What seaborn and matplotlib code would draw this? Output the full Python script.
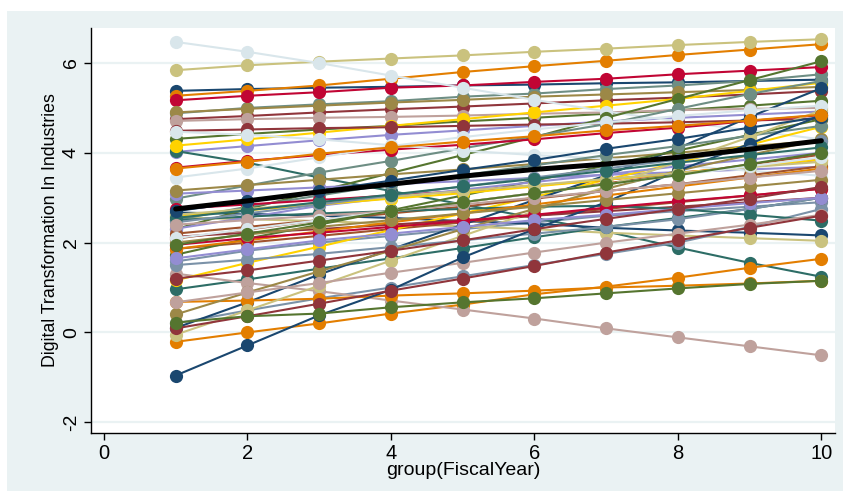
import numpy as np
import pandas as pd
import matplotlib
matplotlib.use("Agg")
import matplotlib.pyplot as plt
from matplotlib.patches import Rectangle
import seaborn as sns

years = [1, 2, 3, 4, 5, 6, 7, 8, 9, 10]

# industry series, grouped by the Stata s2color colour they are drawn in
navy_lines = [
    [5.38, 5.42, 5.45, 5.47, 5.50, 5.52, 5.55, 5.57, 5.60, 5.63],
    [2.67, 2.64, 2.60, 2.55, 2.48, 2.42, 2.33, 2.27, 2.22, 2.16],
    [0.10, 0.67, 1.29, 1.85, 2.40, 2.95, 3.50, 4.10, 4.80, 5.44],
    [-0.96, -0.29, 0.38, 0.95, 1.67, 2.30, 2.90, 3.60, 4.20, 4.84],
    [2.70, 2.92, 3.15, 3.38, 3.62, 3.84, 4.09, 4.31, 4.56, 4.80],
]
maroon_lines = [
    [4.75, 4.82, 4.90, 4.97, 5.03, 5.10, 5.17, 5.23, 5.30, 5.38],
    [4.49, 4.52, 4.55, 4.57, 4.60, 4.63, 4.65, 4.68, 4.72, 4.76],
    [2.13, 2.22, 2.30, 2.40, 2.50, 2.60, 2.70, 2.80, 2.90, 3.00],
    [0.09, 0.36, 0.64, 0.93, 1.20, 1.48, 1.78, 2.05, 2.33, 2.60],
    [1.20, 1.38, 1.60, 1.82, 2.05, 2.30, 2.53, 2.75, 2.98, 3.24],
]
green_lines = [
    [4.31, 4.42, 4.52, 4.60, 4.70, 4.78, 4.87, 4.95, 5.05, 5.16],
    [2.30, 2.75, 3.15, 3.55, 3.95, 4.35, 4.78, 5.20, 5.62, 6.04],
    [1.73, 2.09, 2.40, 2.72, 3.05, 3.38, 3.72, 4.05, 4.40, 4.75],
    [0.22, 0.36, 0.42, 0.56, 0.67, 0.76, 0.87, 0.98, 1.08, 1.15],
    [1.95, 2.20, 2.45, 2.70, 2.90, 3.10, 3.30, 3.50, 3.75, 4.00],
]
orange_lines = [
    [5.27, 5.38, 5.50, 5.65, 5.80, 5.93, 6.05, 6.18, 6.30, 6.42],
    [-0.21, 0.00, 0.20, 0.42, 0.62, 0.85, 1.02, 1.22, 1.44, 1.64],
    [0.68, 0.71, 0.75, 0.82, 0.87, 0.93, 1.00, 1.04, 1.09, 1.15],
    [1.86, 2.05, 2.25, 2.45, 2.65, 2.85, 3.05, 3.25, 3.45, 3.65],
    [3.65, 3.80, 3.98, 4.12, 4.25, 4.37, 4.50, 4.60, 4.72, 4.85],
]
teal_lines = [
    [4.88, 5.00, 5.08, 5.15, 5.25, 5.32, 5.42, 5.50, 5.60, 5.75],
    [2.98, 3.27, 3.56, 3.82, 4.10, 4.37, 4.64, 4.98, 5.31, 5.60],
    [2.50, 2.80, 3.05, 3.30, 3.50, 3.72, 3.95, 4.15, 4.38, 4.60],
]
cranberry_lines = [
    [5.17, 5.27, 5.35, 5.45, 5.50, 5.58, 5.65, 5.75, 5.83, 5.91],
    [3.67, 3.82, 3.95, 4.07, 4.18, 4.30, 4.44, 4.56, 4.71, 4.84],
    [2.75, 2.85, 2.95, 3.05, 3.15, 3.27, 3.40, 3.55, 3.70, 3.85],
    [1.95, 2.10, 2.22, 2.35, 2.48, 2.62, 2.78, 2.92, 3.05, 3.20],
]
lavender_lines = [
    [4.02, 4.15, 4.28, 4.40, 4.50, 4.60, 4.70, 4.78, 4.85, 4.92],
    [3.09, 3.16, 3.23, 3.30, 3.37, 3.44, 3.51, 3.57, 3.63, 3.69],
    [2.31, 2.56, 2.82, 3.00, 3.18, 3.35, 3.52, 3.70, 3.85, 4.00],
    [1.65, 1.85, 2.05, 2.20, 2.35, 2.50, 2.62, 2.75, 2.88, 3.00],
]
khaki_lines = [
    [5.84, 5.95, 6.03, 6.10, 6.17, 6.25, 6.32, 6.40, 6.47, 6.53],
    [2.56, 2.52, 2.48, 2.42, 2.36, 2.30, 2.22, 2.16, 2.10, 2.04],
    [-0.05, 0.49, 1.04, 1.60, 2.15, 2.70, 3.25, 3.80, 4.35, 4.95],
    [2.62, 2.75, 2.88, 3.02, 3.15, 3.28, 3.42, 3.55, 3.68, 3.80],
]
sienna_lines = [
    [2.09, 2.29, 2.50, 2.70, 2.90, 3.10, 3.32, 3.52, 3.74, 3.96],
    [1.86, 2.00, 2.15, 2.30, 2.45, 2.60, 2.75, 2.90, 3.05, 3.20],
    [2.20, 2.35, 2.50, 2.65, 2.80, 2.98, 3.15, 3.30, 3.50, 3.70],
]
emidblue_lines = [
    [1.58, 1.82, 2.00, 2.15, 2.30, 2.45, 2.60, 2.70, 2.80, 2.90],
    [0.20, 0.49, 0.76, 1.00, 1.25, 1.50, 1.75, 2.00, 2.35, 2.75],
    [1.50, 1.62, 1.75, 1.90, 2.05, 2.20, 2.35, 2.52, 2.75, 3.00],
    [2.45, 2.65, 2.85, 3.05, 3.25, 3.45, 3.65, 3.85, 4.05, 4.27],
]
emerald_lines = [
    [4.04, 3.78, 3.45, 3.15, 2.85, 2.55, 2.25, 1.89, 1.55, 1.24],
    [0.96, 1.18, 1.42, 1.65, 1.88, 2.12, 2.35, 2.55, 2.75, 3.00],
    [2.50, 2.58, 2.65, 2.70, 2.75, 2.80, 2.82, 2.75, 2.62, 2.49],
    [2.55, 2.72, 2.90, 3.07, 3.25, 3.42, 3.60, 3.78, 3.95, 4.12],
]
brown_lines = [
    [4.90, 4.98, 5.05, 5.12, 5.18, 5.25, 5.30, 5.35, 5.40, 5.47],
    [3.16, 3.28, 3.40, 3.52, 3.63, 3.75, 3.88, 4.00, 4.15, 4.27],
    [0.40, 0.89, 1.36, 1.82, 2.30, 2.75, 3.20, 3.60, 3.95, 4.30],
    [2.00, 2.18, 2.35, 2.50, 2.65, 2.80, 2.95, 3.10, 3.25, 3.40],
]
erose_lines = [
    [4.71, 4.75, 4.78, 4.80, 4.83, 4.87, 4.90, 4.95, 4.98, 5.00],
    [1.31, 1.10, 0.92, 0.71, 0.51, 0.31, 0.09, -0.11, -0.31, -0.51],
    [0.67, 0.89, 1.10, 1.33, 1.55, 1.78, 2.00, 2.20, 2.40, 2.62],
    [2.40, 2.50, 2.60, 2.70, 2.85, 3.00, 3.15, 3.30, 3.45, 3.60],
]
gold_lines = [
    [4.16, 4.30, 4.45, 4.60, 4.75, 4.90, 5.05, 5.20, 5.38, 5.56],
    [1.16, 1.55, 1.91, 2.28, 2.65, 3.02, 3.40, 3.78, 4.18, 4.58],
    [2.60, 2.72, 2.85, 2.98, 3.10, 3.25, 3.40, 3.55, 3.70, 3.85],
]
bluishgray_lines = [
    [6.47, 6.25, 6.00, 5.72, 5.45, 5.18, 4.92, 4.70, 4.50, 4.30],
    [4.47, 4.40, 4.30, 4.17, 4.05, 3.95, 3.87, 3.72, 3.60, 3.49],
    [3.45, 3.65, 3.90, 4.15, 4.35, 4.52, 4.68, 4.82, 4.95, 5.05],
    [2.10, 2.30, 2.50, 2.70, 2.90, 3.10, 3.30, 3.50, 3.70, 3.90],
]

# overall mean line (thick black)
mean_dt = [2.75, 2.93, 3.13, 3.30, 3.48, 3.63, 3.75, 3.90, 4.08, 4.27]

groups = [
    ("#1A476F", navy_lines), ("#90353B", maroon_lines), ("#55752F", green_lines),
    ("#E37E00", orange_lines), ("#6E8E84", teal_lines), ("#C10534", cranberry_lines),
    ("#938DD2", lavender_lines), ("#CAC27E", khaki_lines), ("#A0522D", sienna_lines),
    ("#7B92A8", emidblue_lines), ("#2D6D66", emerald_lines), ("#9C8847", brown_lines),
    ("#BFA19C", erose_lines), ("#FFD200", gold_lines), ("#D9E6EB", bluishgray_lines),
]

# interleave groups so drawing order cycles through the colours like Stata does
rows = []
palette = {}
order = []
k = 0
for i in range(5):
    for col, lines in groups:
        if i < len(lines):
            name = f"ind{k:02d}"
            palette[name] = col
            order.append(name)
            for yr, v in zip(years, lines[i]):
                rows.append((name, yr, v))
            k += 1
df = pd.DataFrame(rows, columns=["industry", "year", "dt"])

sns.set_style("white")
plt.rcParams["font.family"] = ["Liberation Sans", "DejaVu Sans"]
plt.rcParams["axes.unicode_minus"] = False
plt.rcParams["text.color"] = "black"
plt.rcParams["axes.labelcolor"] = "black"
plt.rcParams["xtick.color"] = "black"
plt.rcParams["ytick.color"] = "black"

fig = plt.figure(figsize=(8.43, 4.91), dpi=100)
fig.patch.set_facecolor("white")
fig.patches.append(Rectangle((7 / 843, 0), 836 / 843, 480 / 491,
                             transform=fig.transFigure, facecolor="#EAF2F3",
                             edgecolor="none", zorder=-10))
ax = fig.add_axes([91 / 843, 58 / 491, 744 / 843, 405 / 491])
ax.set_zorder(1)
ax.set_facecolor("white")

sns.lineplot(data=df, x="year", y="dt", hue="industry", hue_order=order,
             palette=palette, marker="o", markersize=9.5, markeredgewidth=0,
             linewidth=1.5, errorbar=None, legend=False, ax=ax)
sns.lineplot(x=years, y=mean_dt, color="black", linewidth=3.6, ax=ax)

ax.set_xlim(-0.18, 10.19)
ax.set_ylim(-2.24, 6.78)
ax.set_xticks([0, 2, 4, 6, 8, 10])
ax.set_yticks([-2, 0, 2, 4, 6])
ax.yaxis.grid(True, color="#EAF2F3", linewidth=1.6)
ax.set_axisbelow(True)
for s in ["top", "right"]:
    ax.spines[s].set_visible(False)
for s in ["left", "bottom"]:
    ax.spines[s].set_color("black")
    ax.spines[s].set_linewidth(1.0)
ax.tick_params(axis="both", direction="out", length=5, width=1, color="black",
               bottom=True, left=True)
ax.tick_params(axis="x", labelsize=14.5, pad=3)
ax.tick_params(axis="y", labelsize=14, pad=3)
plt.setp(ax.get_yticklabels(), rotation=90, va="center")
ax.set_xlabel("group(FiscalYear)", fontsize=14, labelpad=-1)
ax.set_ylabel("Digital Transformation In Industries", fontsize=12.8, labelpad=3)

fig.savefig("out.png", dpi=100)
